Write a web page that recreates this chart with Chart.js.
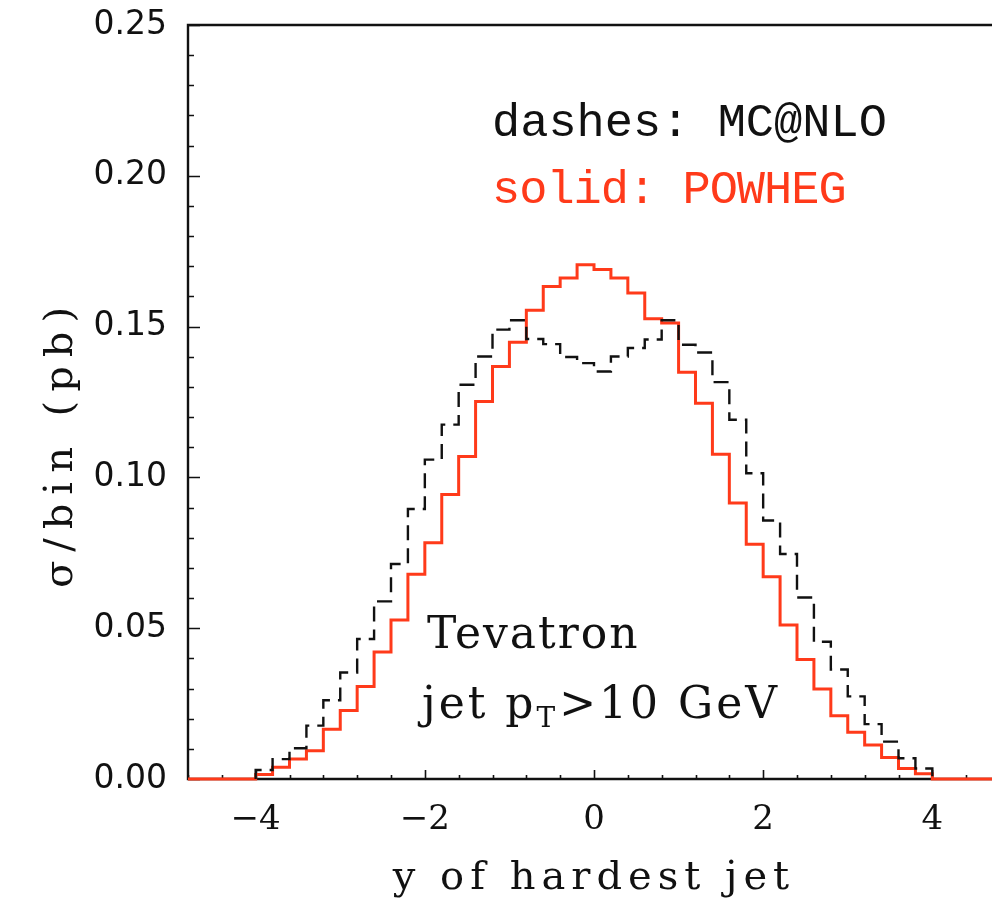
<!DOCTYPE html>
<html>
<head>
<meta charset="utf-8">
<script src="https://cdn.jsdelivr.net/npm/chart.js@4.4.1/dist/chart.umd.min.js"></script>
<style>
  html, body { margin: 0; padding: 0; background: #fff; overflow: hidden; }
  #wrap { width: 1010px; height: 902px; }
</style>
</head>
<body>
<div id="wrap"><canvas id="chart" width="1010" height="902"></canvas></div>
<script>
// bin edges in rapidity of the hardest jet (bins of 0.2)
const binEdges = [-4.0, -3.8, -3.6, -3.4, -3.2, -3.0, -2.8, -2.6, -2.4, -2.2,
                  -2.0, -1.8, -1.6, -1.4, -1.2, -1.0, -0.8, -0.6, -0.4, -0.2,
                   0.0,  0.2,  0.4,  0.6,  0.8,  1.0,  1.2,  1.4,  1.6,  1.8,
                   2.0,  2.2,  2.4,  2.6,  2.8,  3.0,  3.2,  3.4,  3.6,  3.8, 4.0];

// sigma/bin (pb), solid red
const powheg = [0.0015, 0.0039, 0.0066, 0.0094, 0.0165, 0.0227, 0.0307, 0.0421, 0.0527, 0.0679,
                0.0783, 0.0943, 0.1069, 0.1252, 0.1368, 0.1448, 0.1554, 0.1633, 0.1661, 0.1705,
                0.1689, 0.1661, 0.1611, 0.1526, 0.1512, 0.1349, 0.1246, 0.1077, 0.0915, 0.0778,
                0.0671, 0.0511, 0.0396, 0.0298, 0.0210, 0.0155, 0.0113, 0.0071, 0.0035, 0.0017];

// sigma/bin (pb), black dashes
const mcatnlo = [0.0030, 0.0066, 0.0102, 0.0177, 0.0261, 0.0353, 0.0464, 0.0589, 0.0713, 0.0895,
                 0.1059, 0.1175, 0.1307, 0.1401, 0.1490, 0.1521, 0.1459, 0.1442, 0.1399, 0.1379,
                 0.1351, 0.1401, 0.1429, 0.1457, 0.1521, 0.1440, 0.1414, 0.1316, 0.1191, 0.1014,
                 0.0857, 0.0746, 0.0602, 0.0455, 0.0363, 0.0274, 0.0182, 0.0124, 0.0069, 0.0035];

const xRange = [-4.8, 4.8];
const xTicks = [-4, -2, 0, 2, 4];
const yTicks = [0.00, 0.05, 0.10, 0.15, 0.20, 0.25];

// turn bins into points for a stepped line
function histPoints(edges, vals, fromX, toX) {
  const pts = [{ x: fromX, y: 0 }];
  vals.forEach((v, i) => pts.push({ x: edges[i], y: v }));
  pts.push({ x: edges[edges.length - 1], y: 0 });
  if (toX !== undefined) pts.push({ x: toX, y: 0 });
  return pts;
}

// axes frame + inward ticks, and the text labels
const frame = {
  id: 'frame',
  beforeDatasetsDraw(chart) {
    const { ctx, chartArea: a, scales: { x, y } } = chart;
    ctx.save();
    ctx.strokeStyle = '#111';
    ctx.lineWidth = 2.4;
    ctx.beginPath();
    ctx.moveTo(a.right, a.top);
    ctx.lineTo(a.left, a.top);
    ctx.lineTo(a.left, a.bottom);
    ctx.lineTo(a.right, a.bottom);
    ctx.stroke();

    ctx.lineWidth = 1.6;
    ctx.beginPath();
    for (let i = 0; i <= 25; i++) {
      const py = Math.round(y.getPixelForValue(i / 100)) + 0.5;
      const len = i % 5 === 0 ? 12 : 6;
      ctx.moveTo(a.left, py);
      ctx.lineTo(a.left + len, py);
    }
    for (let i = 0; i <= 24; i++) {
      const v = -4.8 + i * 0.4;
      const px = Math.round(x.getPixelForValue(v)) + 0.5;
      const major = Math.abs(v / 2 - Math.round(v / 2)) < 1e-6;
      const len = major ? 9 : 4;
      ctx.moveTo(px, a.bottom);
      ctx.lineTo(px, a.bottom - len);
    }
    ctx.stroke();
    ctx.restore();
  },
  afterDraw(chart) {
    const { ctx } = chart;
    ctx.save();
    ctx.textBaseline = 'alphabetic';

    // axis titles
    ctx.fillStyle = '#111';
    ctx.font = '40px "DejaVu Serif"';
    ctx.letterSpacing = '6px';
    ctx.textAlign = 'center';
    ctx.fillText('y of hardest jet', 594, 889);

    ctx.save();
    ctx.translate(72, 443);
    ctx.rotate(-Math.PI / 2);
    ctx.letterSpacing = '9px';
    ctx.fillText('\u03c3/bin (pb)', 0, 0);
    ctx.restore();

    // legend text
    ctx.textAlign = 'left';
    ctx.letterSpacing = '0px';
    ctx.font = '47px "Liberation Mono"';
    ctx.fillStyle = '#111';
    ctx.fillText('dashes: MC@NLO', 492, 136);
    ctx.fillStyle = '#ff3a1a';
    ctx.letterSpacing = '-1px';
    ctx.fillText('solid: POWHEG', 492, 203);

    // process text
    ctx.fillStyle = '#111';
    ctx.font = '44px "DejaVu Serif"';
    ctx.letterSpacing = '2px';
    ctx.fillText('Tevatron', 427, 648);
    ctx.letterSpacing = '3px';
    let cx = 422;
    ctx.fillText('jet p', cx, 718);
    cx += ctx.measureText('jet p').width;
    ctx.font = '28px "DejaVu Serif"';
    ctx.fillText('T', cx, 727);
    cx += ctx.measureText('T').width + 1;
    ctx.font = '44px "DejaVu Serif"';
    ctx.fillText('>10 GeV', cx, 718);
    ctx.restore();
  }
};

new Chart(document.getElementById('chart'), {
  type: 'line',
  data: {
    datasets: [
      {
        label: 'MC@NLO',
        data: histPoints(binEdges, mcatnlo, binEdges[0]),
        stepped: 'before',
        borderColor: '#111',
        borderWidth: 2.4,
        borderDash: [15, 8],
        pointRadius: 0,
        fill: false,
        clip: 6
      },
      {
        label: 'POWHEG',
        data: histPoints(binEdges, powheg, xRange[0], xRange[1]),
        stepped: 'before',
        borderColor: '#ff3a1a',
        borderWidth: 3,
        pointRadius: 0,
        fill: false,
        clip: 6
      }
    ]
  },
  options: {
    responsive: false,
    animation: false,
    devicePixelRatio: 1,
    layout: { padding: { top: 25, right: 10, left: 0, bottom: 0 } },
    plugins: { legend: { display: false }, tooltip: { enabled: false } },
    scales: {
      x: {
        type: 'linear',
        min: xRange[0],
        max: xRange[1],
        afterBuildTicks: s => { s.ticks = xTicks.map(v => ({ value: v })); },
        afterFit: s => { s.height = 123; s.paddingLeft = 0; s.paddingRight = 0; },
        grid: { display: false, drawTicks: false },
        border: { display: false },
        ticks: {
          color: '#111',
          padding: 21,
          maxRotation: 0,
          font: { family: 'DejaVu Serif', size: 34 },
          callback: v => (v < 0 ? '\u2212' + Math.abs(v) : String(v))
        }
      },
      y: {
        min: 0,
        max: 0.25,
        afterBuildTicks: s => { s.ticks = yTicks.map(v => ({ value: v })); },
        afterFit: s => { s.width = 188; s.paddingTop = 0; s.paddingBottom = 0; },
        grid: { display: false, drawTicks: false },
        border: { display: false },
        ticks: {
          color: '#111',
          padding: 21,
          font: { family: 'DejaVu Sans', size: 33 },
          callback: v => v.toFixed(2)
        }
      }
    }
  },
  plugins: [frame]
});
</script>
</body>
</html>
